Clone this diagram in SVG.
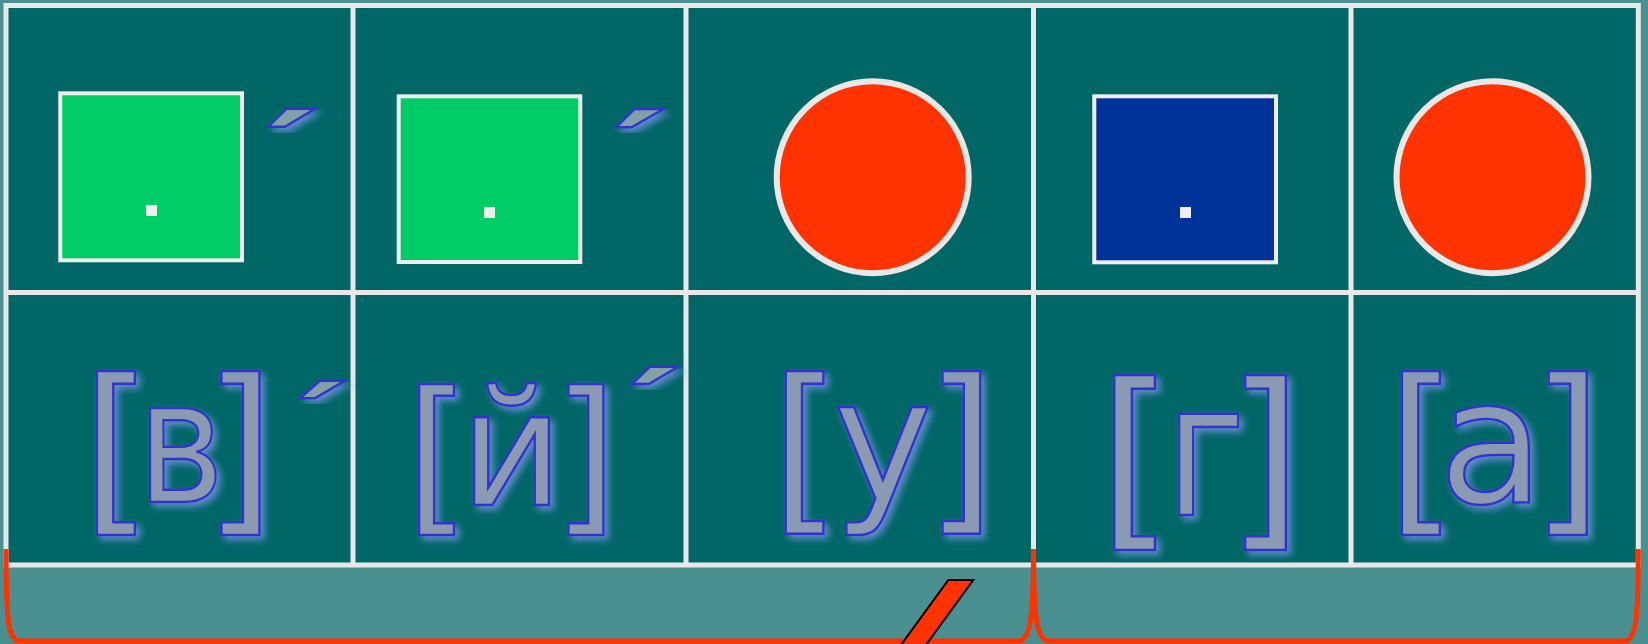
<svg xmlns="http://www.w3.org/2000/svg" width="1648" height="644" viewBox="0 0 1648 644">
<defs>
<style>
.grid{stroke:#e8e8e8;stroke-width:5;fill:none}
.cell{fill:#006666}
.box{stroke:#eeeeee;stroke-width:4}
.dot{fill:#eeeeee}
.circ{fill:#ff3300;stroke:#e8e8e8;stroke-width:6}
.ph{font-family:"DejaVu Sans","Liberation Sans",sans-serif;fill:#8a9ab2;stroke:#3333cc;stroke-width:2.5;text-anchor:middle;filter:url(#glow)}
.acc{fill:#82a0a8;stroke:#3333cc;stroke-width:2.5;stroke-linejoin:miter;filter:url(#glow)}
.brace{fill:none;stroke:#ff3300;stroke-width:5}
</style>
<filter id="glow" x="-20%" y="-20%" width="150%" height="150%">
<feGaussianBlur in="SourceAlpha" stdDeviation="3.5"/>
<feOffset dx="4" dy="4" result="b"/>
<feFlood flood-color="#6f92e0" flood-opacity="0.85"/>
<feComposite in2="b" operator="in"/>
<feMerge><feMergeNode/><feMergeNode in="SourceGraphic"/></feMerge>
</filter>
</defs>
<rect x="0" y="0" width="1648" height="644" fill="#4a9090"/>
<g id="table">
<rect class="cell" x="6" y="5.5" width="1632.3" height="559.5"/>
<rect class="grid" x="6" y="5.5" width="1632.3" height="559.5"/>
<line class="grid" x1="353" y1="5.5" x2="353" y2="565"/>
<line class="grid" x1="686" y1="5.5" x2="686" y2="565"/>
<line class="grid" x1="1033.5" y1="5.5" x2="1033.5" y2="565"/>
<line class="grid" x1="1351" y1="5.5" x2="1351" y2="565"/>
<line class="grid" x1="6" y1="292.5" x2="1638.3" y2="292.5"/>
</g>
<g id="sym1">
<rect class="box" x="60.3" y="93.3" width="181.7" height="167" fill="#00cc66"/>
<rect class="dot" x="146" y="205" width="11" height="11"/>
<polygon class="acc" points="268.3,126.7 286.7,108.7 315,108.7 285,126.7"/>
</g>
<g id="sym2">
<rect class="box" x="398.7" y="96.3" width="181.6" height="165.7" fill="#00cc66"/>
<rect class="dot" x="484" y="207" width="11" height="11"/>
<polygon class="acc" points="616,127.3 634.3,109 663.3,109 631.7,127.3"/>
</g>
<g id="sym3">
<circle class="circ" cx="872.7" cy="177.2" r="96"/>
</g>
<g id="sym4">
<rect class="box" x="1094.3" y="96.3" width="181.7" height="166" fill="#003399"/>
<rect class="dot" x="1180" y="207" width="11" height="11"/>
</g>
<g id="sym5">
<circle class="circ" cx="1492.5" cy="177.2" r="96"/>
</g>
<g id="snd1">
<text class="ph"><tspan x="117" y="510.7" font-size="184">[</tspan><tspan x="180.5" y="502" font-size="172" textLength="88" lengthAdjust="spacingAndGlyphs">в</tspan><tspan x="239.5" y="510.7" font-size="184">]</tspan></text>
<polygon class="acc" points="300,398.3 320,380.7 345,380.7 315,398.3"/>
</g>
<g id="snd2">
<text class="ph"><tspan x="437.5" y="512.7" font-size="169">[</tspan><tspan x="511.5" y="505" font-size="160">й</tspan><tspan x="585" y="512.7" font-size="169">]</tspan></text>
<polygon class="acc" points="632,384 650,366.7 678,366.7 649,384"/>
</g>
<g id="snd3">
<text class="ph"><tspan x="805.7" y="509.2" font-size="182.4">[</tspan><tspan x="883" y="499.9" font-size="168.6">у</tspan><tspan x="960.3" y="509.2" font-size="182.4">]</tspan></text>
</g>
<g id="snd4">
<text class="ph"><tspan x="1135.6" y="524" font-size="197">[</tspan><tspan x="1205.4" y="515" font-size="186" textLength="80" lengthAdjust="spacingAndGlyphs">г</tspan><tspan x="1264.4" y="524" font-size="197">]</tspan></text>
</g>
<g id="snd5">
<text class="ph"><tspan x="1421.8" y="510.7" font-size="184">[</tspan><tspan x="1491.5" y="503.3" font-size="173.7">а</tspan><tspan x="1566.6" y="510.7" font-size="184">]</tspan></text>
</g>
<g id="connectors">
<path class="brace" d="M6,549 C6,620 8,641 20,641 L1018,641 C1030,641 1033.5,620 1033.5,549 C1033.5,620 1037,641 1049,641 L1624,641 C1636,641 1638.3,620 1638.3,549"/>
<polygon points="948.3,580 973.3,580 915,660 890,660" fill="#ff3300" stroke="#000000" stroke-width="2"/>
</g>
</svg>
